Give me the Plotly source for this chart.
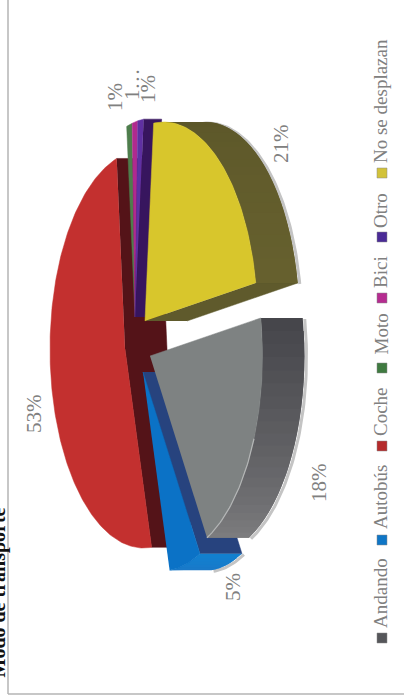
import math
import plotly.graph_objects as go

categories = ["Andando", "Autobús", "Coche", "Moto", "Bici", "Otro", "No se desplazan"]
values = [18, 5, 53, 1, 1, 1, 21]
value_labels = ["18%", "5%", "53%", "1%", "1…", "1%", "21%"]
title_text = "Modo de transporte"

W, H = 404, 700
START = 81
A, B, P, DEPTH = 90, 195, 0.2, 42
apex = [(150, 356), (143, 372), (125, 349), (135, 317), (135, 317), (135, 317), (145, 321)]
top_col = ["#7e8282", "#0b72c6", "#c3302f", "#4e7d4c", "#b02a8e", "#5f30a2", "#d8c62c"]
wall_col = ["#5a5a5e", "#27437e", "#541318", "#3a5c38", "#7a1c60", "#37155e", "#5f5a2c"]
rim_from = ["#46464b", "#1280cf", "#541318", "#3a5c38", "#7a1c60", "#37155e", "#5a5528"]
rim_to = ["#7c7c7e", "#1a78c8", "#541318", "#3a5c38", "#7a1c60", "#37155e", "#66602e"]
swatch_col = ["#55565a", "#0f76c6", "#b52a2b", "#3f7a40", "#b52c90", "#4a2a96", "#d2c23a"]
label_pos = [(319, 483), (233, 587), (34, 414), (115, 97), (132, 84), (148, 89), (281, 144)]
legend_text_y = [593.5, 497.5, 411.5, 334, 272.5, 210.5, 101.5]
legend_swatch_y = [638, 540, 446, 368, 298, 237, 173]
SERIF = "Liberation Serif"


def pt(theta, c, dx=0.0):
    t = math.radians(theta)
    X, Y = math.sin(t), -math.cos(t)
    f = 1 / (1 - P * X)
    return c[0] + A * X * f + dx, c[1] + B * Y * f


def arc(a0, a1, c, dx=0.0):
    n = max(int(abs(a1 - a0)), 2)
    return [pt(a0 + (a1 - a0) * i / n, c, dx) for i in range(n + 1)]


def mix(c0, c1, u):
    a = [int(c0[i:i + 2], 16) for i in (1, 3, 5)]
    b = [int(c1[i:i + 2], 16) for i in (1, 3, 5)]
    return "rgb(%d,%d,%d)" % tuple(round(a[i] + (b[i] - a[i]) * u) for i in range(3))


fig = go.Figure()


def poly(points, colour, lw=0.5):
    fig.add_trace(go.Scatter(x=[p[0] for p in points], y=[p[1] for p in points],
                             mode="lines", fill="toself", fillcolor=colour,
                             line=dict(color=colour, width=lw), hoverinfo="skip"))


def stroke(points, colour, width):
    fig.add_trace(go.Scatter(x=[p[0] for p in points], y=[p[1] for p in points],
                             mode="lines", line=dict(color=colour, width=width), hoverinfo="skip"))


# slice angles from values
spans = []
angle = START
total = sum(values)
for v in values:
    spans.append((angle, angle + v / total * 360))
    angle += v / total * 360


def draw_slice(i, rim=True, walls=("end", "start"), depth=DEPTH):
    a0, a1 = spans[i]
    c = apex[i]
    for w in walls:
        th = a1 if w == "end" else a0
        e, f = pt(th, c), pt(th, c, depth)
        poly([c, e, f, (c[0] + depth, c[1])], wall_col[i])
    if rim:
        n = max(int((a1 - a0) / 3), 1)
        # each band overlaps its neighbour so no seam shows
        for k in range(n):
            b0 = a0 + (a1 - a0) * k / n
            b1 = a0 + (a1 - a0) * (k + 1) / n + (a1 - a0) / n * (k < n - 1)
            front = arc(b0, b1, c)
            back = arc(b1, b0, c, depth)
            poly(front + back, mix(rim_from[i], rim_to[i], k / max(n - 1, 1)), lw=0)
    poly([c] + arc(a0, a1, c), top_col[i])


# soft shadows behind the near rims
for i in (0, 1, 6):
    a0, a1 = spans[i]
    stroke(arc(a0, a1, (apex[i][0], apex[i][1] + 1), DEPTH + 2), "#c4c4c4", 3)

draw_slice(2, rim=False)
draw_slice(3, rim=False, walls=())
draw_slice(4, rim=False, walls=())
draw_slice(5, rim=False, walls=("end",), depth=18)
draw_slice(1, walls=("start",))
draw_slice(0, walls=())
draw_slice(6, walls=("end",))
# highlight along the grey slice edge
a0, a1 = spans[0]
stroke(arc(a0 + (a1 - a0) * 0.45, a1, apex[0]), "#b4b6b6", 1.2)

# legend swatches
fig.add_trace(go.Scatter(x=[382] * len(categories), y=legend_swatch_y, mode="markers",
                         marker=dict(symbol="square", size=10, color=swatch_col,
                                     line=dict(color="#8a8a8a", width=0.5)),
                         hoverinfo="skip"))

annotations = []
base = dict(xref="x", yref="y", showarrow=False, textangle=-90, xanchor="center", yanchor="middle")
for lab, (x, y) in zip(value_labels, label_pos):
    annotations.append(dict(base, x=x, y=y, text=lab,
                            font=dict(family=SERIF, size=21, color="#808080")))
for cat, y in zip(categories, legend_text_y):
    annotations.append(dict(base, x=380.5, y=y, text=cat,
                            font=dict(family=SERIF, size=19, color="#808080")))
annotations.append(dict(showarrow=False, textangle=-90, xanchor="center", yanchor="middle",
                        xref="paper", yref="paper", x=-2.5 / W, y=1 - 593 / H,
                        text="<b>%s</b>" % title_text,
                        font=dict(family=SERIF, size=20, color="#111111")))

shapes = [
    dict(type="line", xref="x", yref="y", x0=8, x1=8, y0=0, y1=694,
         line=dict(color="#b5b5b5", width=1.5)),
    dict(type="line", xref="x", yref="y", x0=8, x1=404, y0=694, y1=694,
         line=dict(color="#b5b5b5", width=1.5)),
]

fig.update_layout(
    width=W, height=H, autosize=False, showlegend=False,
    margin=dict(l=0, r=0, t=0, b=0),
    paper_bgcolor="white", plot_bgcolor="white",
    xaxis=dict(range=[0, W], visible=False, fixedrange=True),
    yaxis=dict(range=[H, 0], visible=False, fixedrange=True),
    annotations=annotations, shapes=shapes,
)
fig.write_html("out.html", config=dict(displayModeBar=False),
               post_script="document.body.style.margin='0';document.body.style.overflow='hidden';")
